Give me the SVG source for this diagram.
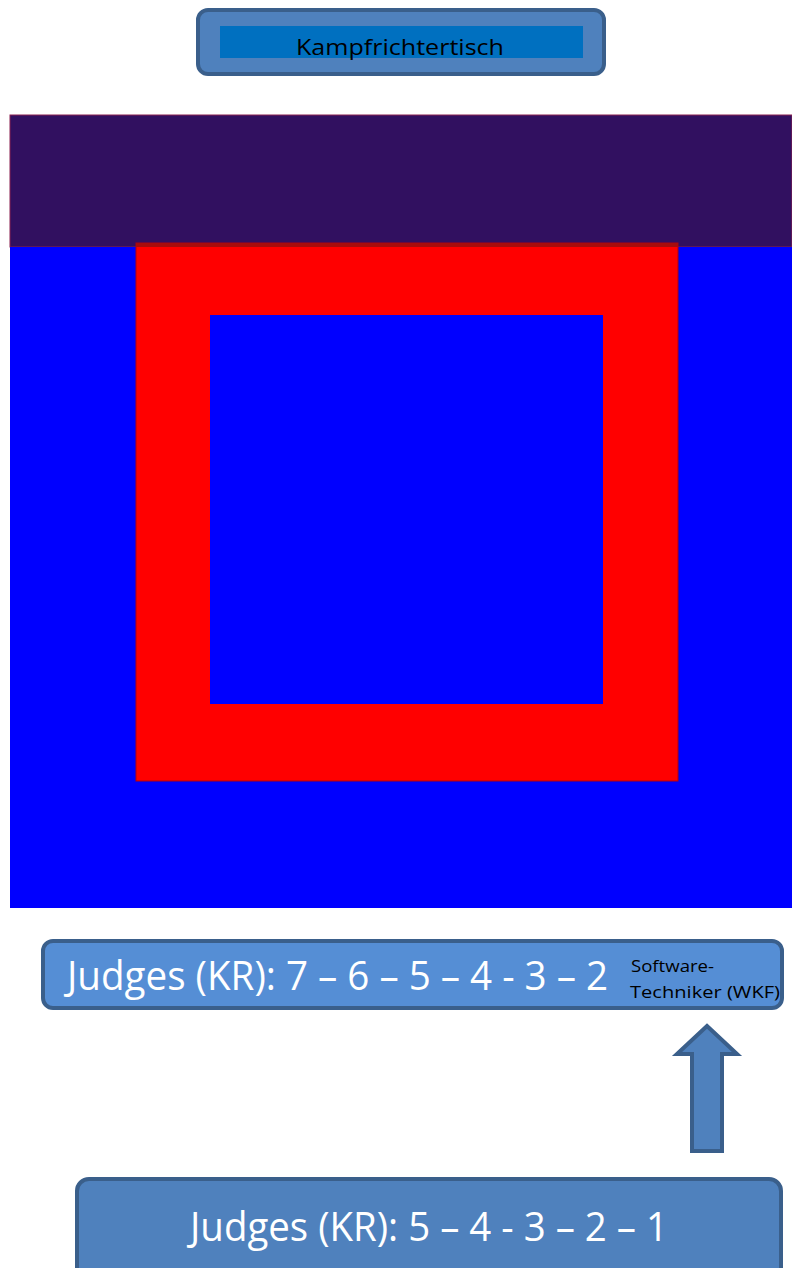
<svg xmlns="http://www.w3.org/2000/svg" width="792" height="1268" viewBox="0 0 792 1268">
<style>
.box{fill:#4F81BD;stroke:#3A5F8B;stroke-width:4}
.lt{fill:#FFFFFF;font-family:"Open Sans","Liberation Sans",sans-serif}
.dk{fill:#000000;font-family:"Open Sans","Liberation Sans",sans-serif}
</style>
<rect width="792" height="1268" fill="#FFFFFF"/>
<g id="mat">
<rect x="10" y="115" width="782" height="132" fill="#311060" stroke="#8a2050" stroke-width="1"/>
<rect x="10" y="247" width="782" height="661" fill="#0000FF"/>
<rect x="136" y="243" width="542" height="538" fill="#FF0000" stroke="#b00010" stroke-width="1"/>
<rect x="136" y="243" width="542" height="4" fill="#A80C0C"/>
<rect x="210" y="315" width="393" height="389" fill="#0000FF"/>
</g>
<g id="kampfrichtertisch">
<rect class="box" x="198" y="10" width="406" height="64" rx="10"/>
<rect x="220" y="26" width="363" height="32" fill="#0070C0"/>
<text class="dk" x="400" y="55" font-size="22" text-anchor="middle" textLength="208" lengthAdjust="spacingAndGlyphs">Kampfrichtertisch</text>
</g>
<g id="judges-top">
<rect x="43" y="941" width="739" height="67" rx="10" fill="#558ED5" stroke="#3A5F8B" stroke-width="4"/>
<text class="lt" x="67" y="990" font-size="40" textLength="541" lengthAdjust="spacingAndGlyphs">Judges (KR): 7 – 6 – 5 – 4 - 3 – 2</text>
<text class="dk" x="631" y="972" font-size="15.5" textLength="83" lengthAdjust="spacingAndGlyphs">Software-</text>
<text class="dk" x="630" y="998" font-size="15.5" textLength="150" lengthAdjust="spacingAndGlyphs">Techniker (WKF)</text>
</g>
<g id="connectors">
<polygon points="707,1026 737,1054 722,1054 722,1151 692,1151 692,1054 677,1054" fill="#4F81BD" stroke="#3A5F8B" stroke-width="4" stroke-linejoin="miter"/>
</g>
<g id="judges-bottom">
<rect class="box" x="77" y="1179" width="704" height="110" rx="12"/>
<text class="lt" x="190" y="1241" font-size="40" textLength="478" lengthAdjust="spacingAndGlyphs">Judges (KR): 5 – 4 - 3 – 2 – 1</text>
</g>
</svg>
